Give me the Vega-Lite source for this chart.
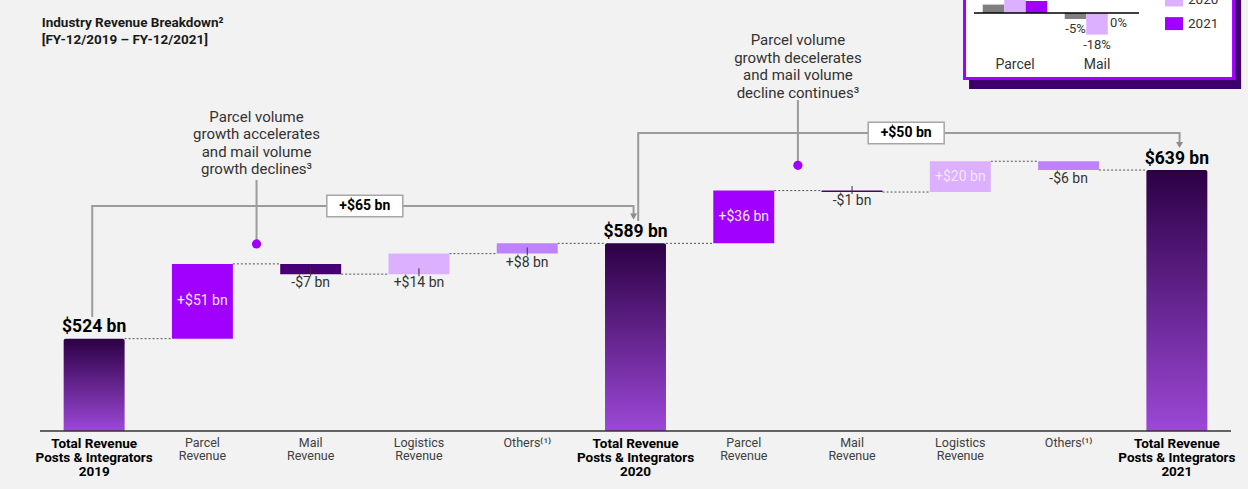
{
  "$schema": "https://vega.github.io/schema/vega-lite/v6.json",
  "width": 1191,
  "height": 431,
  "autosize": {"type": "none"},
  "padding": {"left": 40, "top": 0, "right": 17, "bottom": 58},
  "background": "#f2f2f2",
  "config": {"view": {"stroke": null}, "font": "Roboto"},
  "datasets": {
    "titleRow": [{"id": "T2019", "t": "Industry Revenue Breakdown²\n[FY-12/2019 – FY-12/2021]", "ty": 736.6}],
    "totals": [
      {"id": "T2019", "value": 524, "label": "$524 bn", "cat": "Total Revenue\nPosts & Integrators\n2019"},
      {"id": "T2020", "value": 589, "label": "$589 bn", "cat": "Total Revenue\nPosts & Integrators\n2020"},
      {"id": "T2021", "value": 639, "label": "$639 bn", "cat": "Total Revenue\nPosts & Integrators\n2021"}
    ],
    "changes": [
      {"id": "P2019", "kind": "Parcel", "from": 524, "to": 575, "label": "+$51 bn", "pos": "in", "cat": "Parcel\nRevenue"},
      {"id": "M2019", "kind": "Mail", "from": 575, "to": 568, "label": "-$7 bn", "pos": "below", "cat": "Mail\nRevenue"},
      {"id": "L2019", "kind": "Logistics", "from": 568, "to": 582, "label": "+$14 bn", "pos": "below", "cat": "Logistics\nRevenue"},
      {"id": "O2019", "kind": "Others", "from": 582, "to": 589, "label": "+$8 bn", "pos": "below", "cat": "Others⁽¹⁾"},
      {"id": "P2020", "kind": "Parcel", "from": 589, "to": 625, "label": "+$36 bn", "pos": "in", "cat": "Parcel\nRevenue"},
      {"id": "M2020", "kind": "Mail", "from": 625, "to": 624, "label": "-$1 bn", "pos": "below", "cat": "Mail\nRevenue"},
      {"id": "L2020", "kind": "Logistics", "from": 624, "to": 645, "label": "+$20 bn", "pos": "in", "cat": "Logistics\nRevenue"},
      {"id": "O2020", "kind": "Others", "from": 645, "to": 639, "label": "-$6 bn", "pos": "below", "cat": "Others⁽¹⁾"}
    ],
    "connectors": [
      {"id": "T2019", "next": "P2019", "level": 524},
      {"id": "P2019", "next": "M2019", "level": 575},
      {"id": "M2019", "next": "L2019", "level": 568},
      {"id": "L2019", "next": "O2019", "level": 582},
      {"id": "O2019", "next": "T2020", "level": 589},
      {"id": "T2020", "next": "P2020", "level": 589},
      {"id": "P2020", "next": "M2020", "level": 625},
      {"id": "M2020", "next": "L2020", "level": 624},
      {"id": "L2020", "next": "O2020", "level": 645},
      {"id": "O2020", "next": "T2021", "level": 639}
    ],
    "brackets": [
      {"br": 1, "seq": 1, "id": "T2019", "v": 538.8},
      {"br": 1, "seq": 2, "id": "T2019", "v": 614.5},
      {"br": 1, "seq": 3, "id": "T2020", "v": 614.5},
      {"br": 1, "seq": 4, "id": "T2020", "v": 607.3},
      {"br": 2, "seq": 1, "id": "T2020", "v": 604.2},
      {"br": 2, "seq": 2, "id": "T2020", "v": 664.3},
      {"br": 2, "seq": 3, "id": "T2021", "v": 664.3},
      {"br": 2, "seq": 4, "id": "T2021", "v": 656.1}
    ],
    "boxes": [
      {"id": "M2019", "text": "+$65 bn", "level": 614.5},
      {"id": "M2020", "text": "+$50 bn", "level": 664.3}
    ],
    "notes": [
      {"id": "P2019", "note": "Parcel volume\ngrowth accelerates\nand mail volume\ngrowth declines³", "ny": 675.2, "ly1": 588.6, "ly2": 632.2},
      {"id": "P2020", "note": "Parcel volume\ngrowth decelerates\nand mail volume\ndecline continues³", "ny": 727.7, "ly1": 642.2, "ly2": 686.8}
    ],
    "inset": [
      {"grp": "Parcel", "yr": "2019", "v": 7, "lab": "7%"},
      {"grp": "Parcel", "yr": "2020", "v": 27, "lab": "27%"},
      {"grp": "Parcel", "yr": "2021", "v": 10, "lab": "10%"},
      {"grp": "Mail", "yr": "2019", "v": -5, "lab": "-5%"},
      {"grp": "Mail", "yr": "2020", "v": -18, "lab": "-18%"},
      {"grp": "Mail", "yr": "2021", "v": 0, "lab": "0%"}
    ],
    "insetGroups": [{"grp": "Parcel"}, {"grp": "Mail"}]
  },
  "layer": [
    {
      "layer": [
        {
          "data": {"name": "connectors"},
          "mark": {"type": "rule", "color": "#555555", "strokeDash": [2, 2], "strokeWidth": 1},
          "encoding": {
            "x": {"field": "id", "type": "nominal", "bandPosition": 1, "scale": {"domain": ["T2019","P2019","M2019","L2019","O2019","T2020","P2020","M2020","L2020","O2020","T2021"], "paddingInner": 0.437, "paddingOuter": 0.2185}, "axis": null},
            "x2": {"field": "next", "bandPosition": 0},
            "y": {"field": "level", "type": "quantitative", "scale": {"domain": [461, 755], "zero": false, "nice": false}, "axis": null}
          }
        },
        {
          "data": {"name": "totals"},
          "mark": {"type": "bar", "cornerRadiusTopLeft": 2, "cornerRadiusTopRight": 2,
            "color": {"gradient": "linear", "x1": 0, "y1": 0, "x2": 0, "y2": 1, "stops": [{"offset": 0, "color": "#2c0045"}, {"offset": 1, "color": "#9c48d6"}]}},
          "encoding": {
            "x": {"field": "id", "type": "nominal", "scale": {"domain": ["T2019","P2019","M2019","L2019","O2019","T2020","P2020","M2020","L2020","O2020","T2021"], "paddingInner": 0.437, "paddingOuter": 0.2185}, "axis": null},
            "y": {"field": "value", "type": "quantitative", "scale": {"domain": [461, 755], "zero": false, "nice": false}, "axis": null},
            "y2": {"datum": 461}
          }
        },
        {
          "data": {"name": "changes"},
          "mark": {"type": "bar"},
          "encoding": {
            "x": {"field": "id", "type": "nominal", "scale": {"domain": ["T2019","P2019","M2019","L2019","O2019","T2020","P2020","M2020","L2020","O2020","T2021"], "paddingInner": 0.437, "paddingOuter": 0.2185}, "axis": null},
            "y": {"field": "from", "type": "quantitative", "scale": {"domain": [461, 755], "zero": false, "nice": false}, "axis": null},
            "y2": {"field": "to"},
            "color": {"field": "kind", "type": "nominal", "scale": {"domain": ["Parcel", "Mail", "Logistics", "Others"], "range": ["#a100ff", "#460073", "#dcafff", "#be82ff"]}, "legend": null}
          }
        },
        {
          "data": {"values": [{}]},
          "mark": {"type": "rule", "color": "#333333", "strokeWidth": 1.5},
          "encoding": {
            "y": {"datum": 461, "type": "quantitative", "scale": {"domain": [461, 755], "zero": false, "nice": false}, "axis": null}
          }
        },
        {
          "data": {"name": "totals"},
          "mark": {"type": "text", "baseline": "top", "dy": 6, "fontSize": 13.5, "fontWeight": "bold", "color": "#000000", "lineBreak": "\n", "lineHeight": 14.2},
          "encoding": {
            "x": {"field": "id", "type": "nominal", "scale": {"domain": ["T2019","P2019","M2019","L2019","O2019","T2020","P2020","M2020","L2020","O2020","T2021"], "paddingInner": 0.437, "paddingOuter": 0.2185}, "axis": null},
            "y": {"datum": 461, "type": "quantitative", "scale": {"domain": [461, 755], "zero": false, "nice": false}, "axis": null},
            "text": {"field": "cat"}
          }
        },
        {
          "data": {"name": "changes"},
          "mark": {"type": "text", "baseline": "top", "dy": 6, "fontSize": 12.5, "color": "#404040", "lineBreak": "\n", "lineHeight": 13.2},
          "encoding": {
            "x": {"field": "id", "type": "nominal", "scale": {"domain": ["T2019","P2019","M2019","L2019","O2019","T2020","P2020","M2020","L2020","O2020","T2021"], "paddingInner": 0.437, "paddingOuter": 0.2185}, "axis": null},
            "y": {"datum": 461, "type": "quantitative", "scale": {"domain": [461, 755], "zero": false, "nice": false}, "axis": null},
            "text": {"field": "cat"}
          }
        },
        {
          "data": {"name": "totals"},
          "mark": {"type": "text", "baseline": "alphabetic", "dy": -6.5, "fontSize": 17.5, "fontWeight": "bold", "color": "#000000"},
          "encoding": {
            "x": {"field": "id", "type": "nominal", "scale": {"domain": ["T2019","P2019","M2019","L2019","O2019","T2020","P2020","M2020","L2020","O2020","T2021"], "paddingInner": 0.437, "paddingOuter": 0.2185}, "axis": null},
            "y": {"field": "value", "type": "quantitative", "scale": {"domain": [461, 755], "zero": false, "nice": false}, "axis": null},
            "text": {"field": "label"}
          }
        },
        {
          "data": {"name": "changes"},
          "transform": [{"filter": "datum.pos == 'in'"}, {"calculate": "(datum.from + datum.to) / 2", "as": "mid"}],
          "mark": {"type": "text", "baseline": "middle", "fontSize": 14, "color": "#f3e8ff"},
          "encoding": {
            "x": {"field": "id", "type": "nominal", "scale": {"domain": ["T2019","P2019","M2019","L2019","O2019","T2020","P2020","M2020","L2020","O2020","T2021"], "paddingInner": 0.437, "paddingOuter": 0.2185}, "axis": null},
            "y": {"field": "mid", "type": "quantitative", "scale": {"domain": [461, 755], "zero": false, "nice": false}, "axis": null},
            "text": {"field": "label"}
          }
        },
        {
          "data": {"name": "changes"},
          "transform": [{"filter": "datum.pos == 'below'"}, {"calculate": "min(datum.from, datum.to)", "as": "low"}],
          "mark": {"type": "text", "baseline": "top", "dy": 2, "fontSize": 14, "color": "#333333"},
          "encoding": {
            "x": {"field": "id", "type": "nominal", "scale": {"domain": ["T2019","P2019","M2019","L2019","O2019","T2020","P2020","M2020","L2020","O2020","T2021"], "paddingInner": 0.437, "paddingOuter": 0.2185}, "axis": null},
            "y": {"field": "low", "type": "quantitative", "scale": {"domain": [461, 755], "zero": false, "nice": false}, "axis": null},
            "text": {"field": "label"}
          }
        },
        {
          "data": {"name": "changes"},
          "transform": [{"filter": "datum.pos == 'below' && datum.id != 'O2020'"}, {"calculate": "min(datum.from, datum.to)", "as": "low"}],
          "mark": {"type": "tick", "orient": "vertical", "size": 8, "thickness": 1, "color": "#333333", "opacity": 1, "yOffset": -2},
          "encoding": {
            "x": {"field": "id", "type": "nominal", "scale": {"domain": ["T2019","P2019","M2019","L2019","O2019","T2020","P2020","M2020","L2020","O2020","T2021"], "paddingInner": 0.437, "paddingOuter": 0.2185}, "axis": null},
            "y": {"field": "low", "type": "quantitative", "scale": {"domain": [461, 755], "zero": false, "nice": false}, "axis": null}
          }
        },
        {
          "data": {"name": "brackets"},
          "transform": [{"filter": "datum.br == 1"}],
          "mark": {"type": "line", "color": "#9b9b9b", "strokeWidth": 2, "xOffset": -1.9},
          "encoding": {
            "x": {"field": "id", "type": "nominal", "scale": {"domain": ["T2019","P2019","M2019","L2019","O2019","T2020","P2020","M2020","L2020","O2020","T2021"], "paddingInner": 0.437, "paddingOuter": 0.2185}, "axis": null},
            "y": {"field": "v", "type": "quantitative", "scale": {"domain": [461, 755], "zero": false, "nice": false}, "axis": null},
            "order": {"field": "seq", "type": "quantitative"}
          }
        },
        {
          "data": {"name": "brackets"},
          "transform": [{"filter": "datum.br == 2"}],
          "mark": {"type": "line", "color": "#9b9b9b", "strokeWidth": 2, "xOffset": 2.7},
          "encoding": {
            "x": {"field": "id", "type": "nominal", "scale": {"domain": ["T2019","P2019","M2019","L2019","O2019","T2020","P2020","M2020","L2020","O2020","T2021"], "paddingInner": 0.437, "paddingOuter": 0.2185}, "axis": null},
            "y": {"field": "v", "type": "quantitative", "scale": {"domain": [461, 755], "zero": false, "nice": false}, "axis": null},
            "order": {"field": "seq", "type": "quantitative"}
          }
        },
        {
          "data": {"name": "brackets"},
          "transform": [{"filter": "datum.br == 1 && datum.seq == 4"}],
          "mark": {"type": "point", "shape": "triangle-down", "filled": true, "size": 50, "color": "#8c8c8c", "opacity": 1, "xOffset": -1.9},
          "encoding": {
            "x": {"field": "id", "type": "nominal", "scale": {"domain": ["T2019","P2019","M2019","L2019","O2019","T2020","P2020","M2020","L2020","O2020","T2021"], "paddingInner": 0.437, "paddingOuter": 0.2185}, "axis": null},
            "y": {"field": "v", "type": "quantitative", "scale": {"domain": [461, 755], "zero": false, "nice": false}, "axis": null}
          }
        },
        {
          "data": {"name": "brackets"},
          "transform": [{"filter": "datum.br == 2 && datum.seq == 4"}],
          "mark": {"type": "point", "shape": "triangle-down", "filled": true, "size": 50, "color": "#8c8c8c", "opacity": 1, "xOffset": 2.7},
          "encoding": {
            "x": {"field": "id", "type": "nominal", "scale": {"domain": ["T2019","P2019","M2019","L2019","O2019","T2020","P2020","M2020","L2020","O2020","T2021"], "paddingInner": 0.437, "paddingOuter": 0.2185}, "axis": null},
            "y": {"field": "v", "type": "quantitative", "scale": {"domain": [461, 755], "zero": false, "nice": false}, "axis": null}
          }
        },
        {
          "data": {"name": "boxes"},
          "mark": {"type": "point", "shape": "M-1,-0.283L1,-0.283L1,0.283L-1,0.283Z", "size": 5776, "filled": true, "fill": "#ffffff", "stroke": "#a6a6a6", "strokeWidth": 1.5, "opacity": 1},
          "encoding": {
            "x": {"field": "id", "type": "nominal", "bandPosition": 1.388, "scale": {"domain": ["T2019","P2019","M2019","L2019","O2019","T2020","P2020","M2020","L2020","O2020","T2021"], "paddingInner": 0.437, "paddingOuter": 0.2185}, "axis": null},
            "y": {"field": "level", "type": "quantitative", "scale": {"domain": [461, 755], "zero": false, "nice": false}, "axis": null}
          }
        },
        {
          "data": {"name": "boxes"},
          "mark": {"type": "text", "baseline": "middle", "fontSize": 14, "fontWeight": "bold", "color": "#000000"},
          "encoding": {
            "x": {"field": "id", "type": "nominal", "bandPosition": 1.388, "scale": {"domain": ["T2019","P2019","M2019","L2019","O2019","T2020","P2020","M2020","L2020","O2020","T2021"], "paddingInner": 0.437, "paddingOuter": 0.2185}, "axis": null},
            "y": {"field": "level", "type": "quantitative", "scale": {"domain": [461, 755], "zero": false, "nice": false}, "axis": null},
            "text": {"field": "text"}
          }
        },
        {
          "data": {"name": "notes"},
          "mark": {"type": "rule", "color": "#9b9b9b", "strokeWidth": 2},
          "encoding": {
            "x": {"field": "id", "type": "nominal", "bandPosition": 1.388, "scale": {"domain": ["T2019","P2019","M2019","L2019","O2019","T2020","P2020","M2020","L2020","O2020","T2021"], "paddingInner": 0.437, "paddingOuter": 0.2185}, "axis": null},
            "y": {"field": "ly1", "type": "quantitative", "scale": {"domain": [461, 755], "zero": false, "nice": false}, "axis": null},
            "y2": {"field": "ly2"}
          }
        },
        {
          "data": {"name": "notes"},
          "mark": {"type": "point", "shape": "circle", "filled": true, "size": 85, "color": "#a100ff", "opacity": 1},
          "encoding": {
            "x": {"field": "id", "type": "nominal", "bandPosition": 1.388, "scale": {"domain": ["T2019","P2019","M2019","L2019","O2019","T2020","P2020","M2020","L2020","O2020","T2021"], "paddingInner": 0.437, "paddingOuter": 0.2185}, "axis": null},
            "y": {"field": "ly1", "type": "quantitative", "scale": {"domain": [461, 755], "zero": false, "nice": false}, "axis": null}
          }
        },
        {
          "data": {"name": "notes"},
          "mark": {"type": "text", "baseline": "middle", "align": "center", "fontSize": 15, "color": "#333333", "lineBreak": "\n", "lineHeight": 17.5},
          "encoding": {
            "x": {"field": "id", "type": "nominal", "bandPosition": 1.388, "scale": {"domain": ["T2019","P2019","M2019","L2019","O2019","T2020","P2020","M2020","L2020","O2020","T2021"], "paddingInner": 0.437, "paddingOuter": 0.2185}, "axis": null},
            "y": {"field": "ny", "type": "quantitative", "scale": {"domain": [461, 755], "zero": false, "nice": false}, "axis": null},
            "text": {"field": "note"}
          }
        },
        {
          "data": {"name": "titleRow"},
          "mark": {"type": "text", "baseline": "alphabetic", "align": "left", "fontSize": 13.5, "fontWeight": "bold", "color": "#1a1a1a", "lineBreak": "\n", "lineHeight": 17},
          "encoding": {
            "x": {"field": "id", "type": "nominal", "bandPosition": -0.36, "scale": {"domain": ["T2019","P2019","M2019","L2019","O2019","T2020","P2020","M2020","L2020","O2020","T2021"], "paddingInner": 0.437, "paddingOuter": 0.2185}, "axis": null},
            "y": {"field": "ty", "type": "quantitative", "scale": {"domain": [461, 755], "zero": false, "nice": false}, "axis": null},
            "text": {"field": "t"}
          }
        }
      ]
    },
    {
      "layer": [
        {
          "data": {"values": [{}]},
          "mark": {"type": "rect", "fill": "#3d006c", "xOffset": 6, "x2Offset": 6, "yOffset": 9, "y2Offset": 9},
          "encoding": {
            "x": {"datum": "Parcel", "type": "nominal", "bandPosition": -0.305, "scale": {"domain": ["Parcel", "Mail"], "range": [934, 1098], "paddingInner": 0.213, "paddingOuter": 0.1065}, "axis": null},
            "x2": {"datum": "Mail", "bandPosition": 2.64},
            "y": {"datum": 45, "type": "quantitative", "scale": {"domain": [-348.33, 10.83], "zero": false, "nice": false}, "axis": null},
            "y2": {"datum": -55.8}
          }
        },
        {
          "data": {"values": [{}]},
          "mark": {"type": "rect", "fill": "#ffffff", "stroke": "#a100ff", "strokeWidth": 3},
          "encoding": {
            "x": {"datum": "Parcel", "type": "nominal", "bandPosition": -0.282, "scale": {"domain": ["Parcel", "Mail"], "range": [934, 1098], "paddingInner": 0.213, "paddingOuter": 0.1065}, "axis": null},
            "x2": {"datum": "Mail", "bandPosition": 2.616},
            "y": {"datum": 45, "type": "quantitative", "scale": {"domain": [-348.33, 10.83], "zero": false, "nice": false}, "axis": null},
            "y2": {"datum": -54.6}
          }
        },
        {
          "data": {"name": "inset"},
          "mark": {"type": "bar"},
          "encoding": {
            "x": {"field": "grp", "type": "nominal", "scale": {"domain": ["Parcel", "Mail"], "range": [934, 1098], "paddingInner": 0.213, "paddingOuter": 0.1065}, "axis": null},
            "xOffset": {"field": "yr", "type": "nominal", "scale": {"domain": ["2019", "2020", "2021"], "paddingInner": 0, "paddingOuter": 0}},
            "y": {"field": "v", "type": "quantitative", "scale": {"domain": [-348.33, 10.83], "zero": false, "nice": false}, "axis": null},
            "color": {"field": "yr", "type": "nominal", "scale": {"domain": ["2019", "2020", "2021"], "range": ["#7f7f7f", "#dcafff", "#a100ff"]},
              "legend": {"orient": "none", "legendX": 1125, "legendY": -32.6, "title": null, "direction": "vertical",
                "symbolType": "M-1,-0.72L1,-0.72L1,0.72L-1,0.72Z", "symbolSize": 324, "symbolStrokeWidth": 0,
                "labelFontSize": 13.5, "labelColor": "#333333", "labelFont": "Roboto", "rowPadding": 7.6, "padding": 0, "labelOffset": 5}}
          }
        },
        {
          "data": {"values": [{}]},
          "mark": {"type": "rule", "color": "#000000", "strokeWidth": 1.5},
          "encoding": {
            "x": {"datum": "Parcel", "type": "nominal", "bandPosition": -0.135, "scale": {"domain": ["Parcel", "Mail"], "range": [934, 1098], "paddingInner": 0.213, "paddingOuter": 0.1065}, "axis": null},
            "x2": {"datum": "Mail", "bandPosition": 1.151},
            "y": {"datum": 0, "type": "quantitative", "scale": {"domain": [-348.33, 10.83], "zero": false, "nice": false}, "axis": null}
          }
        },
        {
          "data": {"name": "inset"},
          "transform": [{"filter": "datum.v > 0"}],
          "mark": {"type": "text", "baseline": "bottom", "dy": -3, "fontSize": 13, "color": "#333333"},
          "encoding": {
            "x": {"field": "grp", "type": "nominal", "scale": {"domain": ["Parcel", "Mail"], "range": [934, 1098], "paddingInner": 0.213, "paddingOuter": 0.1065}, "axis": null},
            "xOffset": {"field": "yr", "type": "nominal", "scale": {"domain": ["2019", "2020", "2021"], "paddingInner": 0, "paddingOuter": 0}},
            "y": {"field": "v", "type": "quantitative", "scale": {"domain": [-348.33, 10.83], "zero": false, "nice": false}, "axis": null},
            "text": {"field": "lab"}
          }
        },
        {
          "data": {"name": "inset"},
          "transform": [{"filter": "datum.v <= 0"}],
          "mark": {"type": "text", "baseline": "top", "dy": 4, "fontSize": 13, "color": "#333333"},
          "encoding": {
            "x": {"field": "grp", "type": "nominal", "scale": {"domain": ["Parcel", "Mail"], "range": [934, 1098], "paddingInner": 0.213, "paddingOuter": 0.1065}, "axis": null},
            "xOffset": {"field": "yr", "type": "nominal", "scale": {"domain": ["2019", "2020", "2021"], "paddingInner": 0, "paddingOuter": 0}},
            "y": {"field": "v", "type": "quantitative", "scale": {"domain": [-348.33, 10.83], "zero": false, "nice": false}, "axis": null},
            "text": {"field": "lab"}
          }
        },
        {
          "data": {"name": "insetGroups"},
          "mark": {"type": "text", "baseline": "middle", "fontSize": 14, "color": "#333333"},
          "encoding": {
            "x": {"field": "grp", "type": "nominal", "scale": {"domain": ["Parcel", "Mail"], "range": [934, 1098], "paddingInner": 0.213, "paddingOuter": 0.1065}, "axis": null},
            "y": {"datum": -43.3, "type": "quantitative", "scale": {"domain": [-348.33, 10.83], "zero": false, "nice": false}, "axis": null},
            "text": {"field": "grp"}
          }
        }
      ]
    }
  ],
  "resolve": {
    "scale": {"x": "independent", "y": "independent", "color": "independent"},
    "axis": {"x": "independent", "y": "independent"},
    "legend": {"color": "independent"}
  }
}
